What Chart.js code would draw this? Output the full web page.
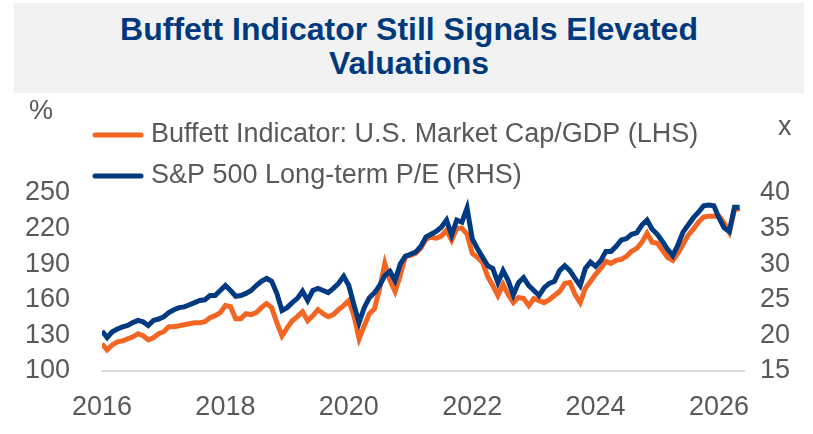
<!DOCTYPE html>
<html>
<head>
<meta charset="utf-8">
<script src="https://cdn.jsdelivr.net/npm/chart.js@4/dist/chart.umd.min.js"></script>
<style>
  html, body { margin: 0; padding: 0; background: #fff; }
  #wrap { position: relative; width: 813px; height: 434px; }
  #titleBand {
    position: absolute; left: 14px; top: 3px; width: 790px; height: 90px;
    background: #f2f2f2;
  }
  #title {
    position: absolute; left: 0; top: 9px; width: 100%;
    text-align: center; color: #003a7d;
    font: bold 32px "Liberation Sans", Arial, sans-serif; line-height: 34px;
  }
  canvas { position: absolute; left: 0; top: 0; }
</style>
</head>
<body>
<div id="wrap">
  <div id="titleBand"><div id="title">Buffett Indicator Still Signals Elevated<br>Valuations</div></div>
  <canvas id="myChart" width="813" height="434"></canvas>
</div>
<script>
// monthly, Jan 2016 .. May 2026
const startYear = 2016;
const buffett = [
  122.9, 117.8, 122.0, 124.6, 125.4, 127.1, 128.8, 131.4, 129.7, 126.3, 128.0, 131.4,
  133.1, 137.3, 137.3, 138.1, 139.0, 139.8, 140.7, 140.7, 141.5, 144.9, 146.6, 149.2,
  155.1, 154.2, 144.1, 144.1, 148.3, 147.5, 149.2, 153.4, 156.8, 153.4, 140.7, 129.7,
  136.4, 142.4, 145.8, 150.0, 142.4, 146.6, 151.7, 148.3, 145.8, 147.5, 151.7, 155.1,
  159.3, 146.6, 127.1, 138.1, 148.3, 152.5, 169.5, 190.7, 176.3, 167.0, 180.5, 196.6,
  197.5, 199.2, 203.4, 211.0, 212.7, 211.9, 213.6, 218.7, 210.2, 220.3, 220.3, 215.3,
  199.2, 195.8, 191.5, 179.7, 172.0, 163.6, 172.9, 164.4, 157.6, 161.9, 161.0, 155.1,
  161.0, 159.3, 157.6, 160.2, 163.6, 167.0, 173.7, 174.6, 164.4, 157.6, 169.5, 175.4,
  181.4, 186.4, 192.4, 190.7, 193.2, 194.1, 196.6, 200.9, 203.4, 208.5, 216.1, 208.5,
  207.6, 201.7, 195.8, 193.2, 199.2, 206.8, 214.4, 219.5, 225.4, 229.7, 230.5, 230.5,
  230.5, 224.6, 217.0, 235.6, 237.3
];
const longTermPE = [
  20.6, 19.7, 20.5, 20.9, 21.2, 21.4, 21.8, 22.1, 21.9, 21.4, 22.1, 22.3,
  22.6, 23.2, 23.6, 23.9, 24.0, 24.3, 24.6, 24.9, 25.0, 25.6, 25.6, 26.3,
  27.0, 26.3, 25.5, 25.6, 25.9, 26.3, 27.0, 27.6, 28.0, 27.6, 25.9, 23.5,
  23.9, 24.6, 25.2, 26.2, 24.9, 26.3, 26.6, 26.3, 26.0, 26.6, 27.3, 28.3,
  27.0, 24.3, 21.8, 23.9, 25.3, 26.0, 27.0, 28.4, 29.0, 27.7, 30.0, 31.1,
  31.4, 31.7, 32.5, 33.8, 34.2, 34.6, 35.2, 36.2, 34.1, 36.2, 35.9, 37.9,
  33.6, 32.2, 31.0, 29.8, 29.4, 27.4, 29.1, 27.7, 25.7, 27.4, 28.1, 27.0,
  26.3, 25.6, 26.7, 27.3, 27.6, 29.1, 29.8, 29.1, 28.0, 27.0, 29.4, 30.3,
  29.7, 30.5, 31.8, 31.8, 32.5, 33.4, 33.6, 34.2, 34.4, 35.5, 36.2, 34.9,
  34.2, 33.2, 32.1, 31.2, 32.7, 34.5, 35.5, 36.5, 37.3, 38.2, 38.3, 38.2,
  36.5, 35.1, 34.6, 38.0, 38.0
];
const yearTicks = [2016, 2018, 2020, 2022, 2024, 2026];
const leftTicks = [100, 130, 160, 190, 220, 250];
const rightTicks = [15, 20, 25, 30, 35, 40];

const seriesNames = ["Buffett Indicator: U.S. Market Cap/GDP (LHS)", "S&P 500 Long-term P/E (RHS)"];
const orange = "#f26522";
const navy = "#003a80";
const grey = "#595959";
const font = { family: "'Liberation Sans', Arial, sans-serif", size: 27 };

const toPoints = arr => arr.map((v, i) => ({ x: startYear + i / 12, y: v }));

const legendAndUnits = {
  id: "legendAndUnits",
  afterDraw(chart) {
    const ctx = chart.ctx;
    ctx.save();
    ctx.font = "27px 'Liberation Sans', Arial, sans-serif";
    ctx.fillStyle = grey;
    ctx.textBaseline = "middle";
    ctx.textAlign = "left";
    ctx.fillText("%", 29, 112);
    ctx.fillText("x", 778, 128);
    const rows = [
      { text: seriesNames[0], color: orange, y: 135 },
      { text: seriesNames[1], color: navy, y: 176 }
    ];
    rows.forEach(r => {
      ctx.strokeStyle = r.color;
      ctx.lineWidth = 5;
      ctx.lineCap = "round";
      ctx.beginPath();
      ctx.moveTo(95, r.y);
      ctx.lineTo(141, r.y);
      ctx.stroke();
      ctx.fillStyle = grey;
      ctx.fillText(r.text, 151, r.y);
    });
    ctx.restore();
  }
};

new Chart(document.getElementById("myChart"), {
  type: "line",
  data: {
    datasets: [
      {
        label: seriesNames[1],
        data: toPoints(longTermPE),
        yAxisID: "y1",
        borderColor: navy,
        borderWidth: 5,
        pointRadius: 0,
        tension: 0,
        order: 0
      },
      {
        label: seriesNames[0],
        data: toPoints(buffett),
        yAxisID: "y",
        borderColor: orange,
        borderWidth: 5,
        pointRadius: 0,
        tension: 0,
        order: 1
      }
    ]
  },
  options: {
    responsive: false,
    animation: false,
    layout: { padding: { top: 193, left: 0, right: 0, bottom: 0 } },
    plugins: { legend: { display: false }, tooltip: { enabled: false } },
    scales: {
      x: {
        type: "linear",
        min: 2016,
        max: 2026.405,
        afterBuildTicks: s => { s.ticks = yearTicks.map(v => ({ value: v })); },
        afterFit: s => { s.height = 63; },
        grid: { display: false, drawTicks: false },
        border: { display: true, color: "#d9d9d9", width: 2 },
        ticks: { color: grey, font: font, padding: 20, maxRotation: 0, autoSkip: false,
                 callback: v => String(v) }
      },
      y: {
        position: "left",
        min: 100,
        max: 250,
        afterBuildTicks: s => { s.ticks = leftTicks.map(v => ({ value: v })); },
        afterFit: s => { s.width = 102; },
        grid: { display: false, drawTicks: false },
        border: { display: false },
        ticks: { color: grey, font: font, padding: 32 }
      },
      y1: {
        position: "right",
        min: 15,
        max: 40,
        afterBuildTicks: s => { s.ticks = rightTicks.map(v => ({ value: v })); },
        afterFit: s => { s.width = 69; },
        grid: { display: false, drawTicks: false },
        border: { display: false },
        ticks: { color: grey, font: font, padding: 16 }
      }
    }
  },
  plugins: [legendAndUnits]
});
</script>
</body>
</html>
